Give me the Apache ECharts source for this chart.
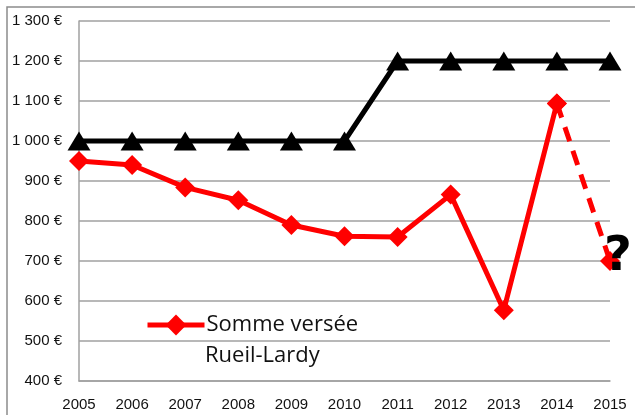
<!DOCTYPE html>
<html>
<head>
<meta charset="utf-8">
<script src="https://cdn.jsdelivr.net/npm/echarts@6/dist/echarts.min.js"></script>
<style>html,body{margin:0;padding:0;background:#fff;}#c{width:635px;height:415px;}</style>
</head>
<body>
<div id="c"></div>
<script>
var years = ['2005','2006','2007','2008','2009','2010','2011','2012','2013','2014','2015'];
var plafond = [1000, 1000, 1000, 1000, 1000, 1000, 1200, 1200, 1200, 1200, 1200];
var somme = [950, 940, 884, 852, 790, 762, 760, 866, 577, 1094, null];
var sommeEstim = [null, null, null, null, null, null, null, null, null, 1094, 700];
var legendName = 'Somme versée';
var legendLine2 = 'Rueil-Lardy';

function fmtEuro(v) {
  var s = String(v);
  if (v >= 1000) s = s.slice(0, s.length - 3) + ' ' + s.slice(-3);
  return s + ' €';
}

var AX_FONT = "'Liberation Sans', Arial, sans-serif";
var LG_FONT = "'Open Sans', 'Noto Sans', sans-serif";

var chart = echarts.init(document.getElementById('c'), null, {renderer: 'canvas'});
chart.setOption({
  animation: false,
  backgroundColor: '#fff',
  grid: {left: 79, right: 25, top: 21, bottom: 34, containLabel: false},
  graphic: [
    {type: 'rect', shape: {x: 7, y: 7, width: 700, height: 500}, style: {fill: 'none', stroke: '#8c8c8c', lineWidth: 1.5}, silent: true},
    {type: 'text', left: 205, top: 345, style: {text: legendLine2, fontFamily: LG_FONT, fontSize: 22, fill: '#111'}}
  ],
  legend: {
    data: [legendName],
    left: 145, top: 314, padding: 0,
    itemWidth: 57, itemHeight: 26, itemGap: 0,
    lineStyle: {width: 5},
    textStyle: {fontFamily: LG_FONT, fontSize: 22, color: '#111', padding: [0, 0, 0, -3]}
  },
  xAxis: {
    type: 'category', data: years, boundaryGap: false,
    axisLine: {lineStyle: {color: '#a0a0a0', width: 1.5}},
    axisTick: {show: false},
    axisLabel: {fontFamily: AX_FONT, fontSize: 15, color: '#111', margin: 16},
    splitLine: {show: false}
  },
  yAxis: {
    type: 'value', min: 400, max: 1300, interval: 100,
    axisLine: {show: true, lineStyle: {color: '#a0a0a0', width: 1.5}},
    axisTick: {show: false},
    axisLabel: {fontFamily: AX_FONT, fontSize: 15, color: '#111', margin: 17, formatter: fmtEuro},
    splitLine: {lineStyle: {color: '#a0a0a0', width: 1.5}}
  },
  series: [
    {
      name: 'Plafond', type: 'line', data: plafond,
      symbol: 'triangle', symbolSize: [23, 19],
      itemStyle: {color: '#000'},
      lineStyle: {color: '#000', width: 5},
      z: 3
    },
    {
      name: legendName, type: 'line', data: somme,
      symbol: 'diamond', symbolSize: 20,
      itemStyle: {color: '#ff0000'},
      lineStyle: {color: '#ff0000', width: 5},
      z: 4
    },
    {
      name: 'Estimation', type: 'line', data: sommeEstim,
      symbol: 'diamond', symbolSize: 20,
      itemStyle: {color: '#ff0000'},
      lineStyle: {color: '#ff0000', width: 5, type: [15, 10]},
      label: {
        show: true, position: 'inside', offset: [8, -3],
        formatter: function (p) { return p.dataIndex === years.length - 1 ? '?' : ''; },
        fontFamily: "'DejaVu Sans', sans-serif", fontWeight: 'bold', fontSize: 48, color: '#000'
      },
      z: 4
    }
  ]
});
</script>
</body>
</html>
